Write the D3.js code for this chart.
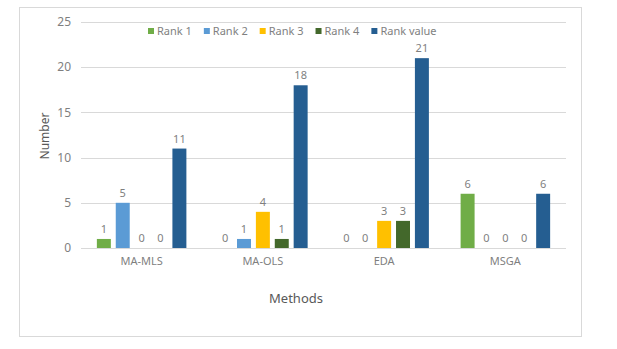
<!DOCTYPE html>
<html><head><meta charset="utf-8">
<script src="https://cdn.jsdelivr.net/npm/d3@7"></script>
<style>body{margin:0;background:#fff;}svg text{font-family:"Noto Sans",sans-serif;}</style>
</head><body><svg id="c" width="617" height="349"></svg>
<script>
const categories = ["MA-MLS", "MA-OLS", "EDA", "MSGA"];
const seriesNames = ["Rank 1", "Rank 2", "Rank 3", "Rank 4", "Rank value"];
const rank1 = [1, 0, 0, 6];
const rank2 = [5, 1, 0, 0];
const rank3 = [0, 4, 3, 0];
const rank4 = [0, 1, 3, 0];
const rankValue = [11, 18, 21, 6];
const yTicks = [0, 5, 10, 15, 20, 25];
const colors = ["#70AD47", "#5B9BD5", "#FFC000", "#43682B", "#255E91"];

(function () {
const seriesValues = [rank1, rank2, rank3, rank4, rankValue];
const svg = d3.select("#c");
const textCol = "#7f7f7f";

// outer chart border
svg.append("rect").attr("x", 19.5).attr("y", 7.5).attr("width", 562).attr("height", 329)
  .attr("fill", "#fff").attr("stroke", "#d9d9d9");

const pl = 81, pr = 566, pt = 22, pb = 248;
const x0 = d3.scaleBand().domain(categories).range([pl, pr]).padding(0);
const x1 = d3.scaleBand().domain(seriesNames).range([0, x0.bandwidth()]).paddingInner(0.26).paddingOuter(0.84);
const y = d3.scaleLinear().domain([0, 25]).range([pb, pt]);

// gridlines
svg.append("g").selectAll("line").data(yTicks).join("line")
  .attr("x1", pl).attr("x2", pr)
  .attr("y1", d => Math.round(y(d)) + 0.5).attr("y2", d => Math.round(y(d)) + 0.5)
  .attr("stroke", "#d9d9d9").attr("stroke-width", 1);

// y tick labels
svg.append("g").selectAll("text").data(yTicks).join("text")
  .attr("x", 71).attr("y", d => y(d)).attr("dy", "0.35em")
  .attr("text-anchor", "end").attr("font-size", 12).attr("fill", textCol)
  .text(d => d);

// bars
const rows = (c, ci) => seriesNames.map((s, si) => ({s, si, v: seriesValues[si][ci]}));
const groups = svg.append("g").selectAll("g").data(categories).join("g")
  .attr("transform", d => `translate(${x0(d)},0)`);
groups.selectAll("rect").data(rows).join("rect")
  .attr("x", d => x1(d.s)).attr("width", x1.bandwidth())
  .attr("y", d => y(d.v)).attr("height", d => y(0) - y(d.v))
  .attr("fill", d => colors[d.si]);
groups.selectAll("text").data(rows).join("text")
  .attr("x", d => x1(d.s) + x1.bandwidth() / 2).attr("y", d => y(d.v) - 6)
  .attr("text-anchor", "middle").attr("font-size", 11).attr("fill", textCol)
  .text(d => d.v);

// category labels
svg.append("g").selectAll("text").data(categories).join("text")
  .attr("x", d => x0(d) + x0.bandwidth() / 2).attr("y", 261).attr("dy", "0.35em")
  .attr("text-anchor", "middle").attr("font-size", 11).attr("fill", textCol)
  .text(d => d);

// axis titles
svg.append("text").attr("x", 296).attr("y", 298).attr("dy", "0.35em")
  .attr("text-anchor", "middle").attr("font-size", 13).attr("fill", "#595959").text("Methods");
svg.append("text").attr("transform", "translate(45,136) rotate(-90)").attr("dy", "0.35em")
  .attr("text-anchor", "middle").attr("font-size", 12).attr("fill", "#595959").text("Number");

// legend
const leg = svg.append("g");
let lx = 148;
seriesNames.forEach((s, i) => {
  leg.append("rect").attr("x", lx).attr("y", 28).attr("width", 6).attr("height", 6).attr("fill", colors[i]);
  const t = leg.append("text").attr("x", lx + 9).attr("y", 31).attr("dy", "0.35em")
    .attr("font-size", 11).attr("fill", textCol).text(s);
  lx += 9 + t.node().getComputedTextLength() + 12;
});
})();
</script></body></html>
